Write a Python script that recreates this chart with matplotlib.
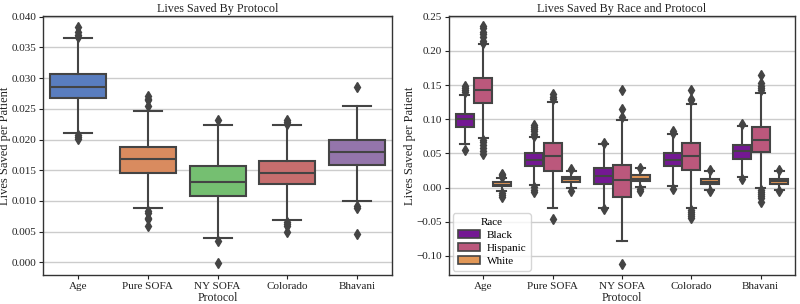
import colorsys
import matplotlib
matplotlib.use("Agg")
import matplotlib.pyplot as plt
import matplotlib.colors as mcolors
from matplotlib.patches import Patch

plt.rcParams['font.family'] = ['Liberation Serif', 'DejaVu Serif']
plt.rcParams['axes.unicode_minus'] = True

protocols = ["Age", "Pure SOFA", "NY SOFA", "Colorado", "Bhavani"]

# ---- Left panel: overall lives saved per patient ----
all_q1 = [0.0267, 0.0146, 0.0108, 0.0127, 0.0159]
all_med = [0.0286, 0.0168, 0.0131, 0.0146, 0.0180]
all_q3 = [0.0307, 0.0188, 0.0157, 0.0165, 0.0199]
all_lo = [0.0211, 0.0089, 0.0039, 0.0069, 0.0100]
all_hi = [0.0365, 0.0246, 0.0223, 0.0223, 0.0254]
all_fliers = [
    [0.0383, 0.0375, 0.0370, 0.0367, 0.0207, 0.0204, 0.0201],
    [0.0270, 0.0266, 0.0264, 0.0254, 0.0084, 0.0080, 0.0073, 0.0071, 0.0059],
    [0.0231, 0.0035, -0.0001],
    [0.0232, 0.0229, 0.0226, 0.0066, 0.0063, 0.0060, 0.0050],
    [0.0286, 0.0092, 0.0089, 0.0047],
]

# ---- Right panel: by race ----
races = ["Black", "Hispanic", "White"]
black_q1 = [0.0890, 0.0308, 0.0054, 0.0308, 0.0420]
black_med = [0.0997, 0.0396, 0.0166, 0.0410, 0.0528]
black_q3 = [0.1080, 0.0503, 0.0283, 0.0508, 0.0626]
black_lo = [0.0635, 0.0039, -0.0298, 0.0015, 0.0151]
black_hi = [0.1354, 0.0737, 0.0640, 0.0787, 0.0905]
black_fliers = [
    [0.148, 0.145, 0.142, 0.140, 0.0553],
    [0.091, 0.088, 0.085, 0.082, 0.079, 0.076, 0.0004, -0.003, -0.0066],
    [0.0648, -0.032],
    [0.083, 0.080, -0.002],
    [0.093, 0.013],
]
hisp_q1 = [0.1237, 0.0249, -0.0132, 0.0260, 0.0518]
hisp_med = [0.1432, 0.0454, 0.0103, 0.0454, 0.0689]
hisp_q3 = [0.1608, 0.0650, 0.0327, 0.0655, 0.0884]
hisp_lo = [0.0729, -0.0298, -0.0777, -0.0298, -0.0005]
hisp_hi = [0.2102, 0.1250, 0.0987, 0.1217, 0.1380]
hisp_fliers = [
    [0.236, 0.233, 0.228, 0.224, 0.220, 0.215, 0.212,
     0.070, 0.066, 0.062, 0.058, 0.053, 0.049],
    [0.137, 0.133, 0.130, -0.046],
    [0.143, 0.115, 0.103, -0.112],
    [0.143, 0.130, 0.128, -0.033, -0.036, -0.039, -0.042, -0.045],
    [0.164, 0.153, 0.149, 0.145, 0.142,
     -0.0034, -0.006, -0.010, -0.013, -0.016, -0.0205],
]
white_q1 = [0.0015, 0.0088, 0.0093, 0.0054, 0.0054]
white_med = [0.0044, 0.0122, 0.0127, 0.0088, 0.0093]
white_q3 = [0.0078, 0.0151, 0.0176, 0.0127, 0.0127]
white_lo = [-0.0044, -0.0005, 0.0005, -0.0034, -0.0034]
white_hi = [0.0137, 0.0249, 0.0289, 0.0239, 0.0239]
white_fliers = [
    [0.020, 0.018, 0.016, -0.008, -0.011, -0.014],
    [0.027, -0.0044],
    [0.029, -0.002, -0.005],
    [0.025, -0.005],
    [0.026, -0.005],
]


def desat(c, prop=0.75):
    r, g, b = mcolors.to_rgb(c)
    h, l, s = colorsys.rgb_to_hls(r, g, b)
    return colorsys.hls_to_rgb(h, l, s * prop)


muted = ["#4878d0", "#ee854a", "#6acc64", "#d65f5f", "#956cb4"]
left_colors = [desat(c) for c in muted]
plasma = plt.get_cmap("plasma")
race_colors = [desat(plasma(v)) for v in (0.25, 0.5, 0.75)]
edge_gray = "#444444"


def make_stats(q1, med, q3, lo, hi, fl):
    out = []
    for i in range(len(q1)):
        out.append(dict(q1=q1[i], med=med[i], q3=q3[i], whislo=lo[i],
                        whishi=hi[i], fliers=fl[i]))
    return out


def draw(ax, stats, positions, width, colors):
    props = dict(color=edge_gray, linewidth=1.5)
    bp = ax.bxp(stats, positions=positions, widths=width, patch_artist=True,
                showfliers=True, capwidths=width / 2,
                boxprops=dict(edgecolor=edge_gray, linewidth=1.5),
                medianprops=props, whiskerprops=props, capprops=props,
                flierprops=dict(marker='d', markersize=5, markerfacecolor=edge_gray,
                                markeredgecolor=edge_gray, linestyle='none'),
                manage_ticks=False, zorder=2)
    for patch, c in zip(bp['boxes'], colors):
        patch.set_facecolor(c)


def style(ax, ylab_x):
    ax.set_axisbelow(True)
    ax.yaxis.grid(True, color='#cccccc', linewidth=1)
    ax.xaxis.grid(False)
    for sp in ax.spines.values():
        sp.set_color('#333333')
        sp.set_linewidth(1.0)
    ax.tick_params(axis='both', labelsize=8, colors='#222222', length=3, width=0.8,
                   pad=2)
    ax.set_xticks(range(len(protocols)))
    ax.set_xticklabels(protocols)
    ax.set_xlim(-0.5, len(protocols) - 0.5)
    ax.set_xlabel("Protocol", fontsize=8.5, labelpad=1, color='#222222')
    ax.set_ylabel("Lives Saved per Patient", fontsize=9, color='#222222')
    ax.yaxis.set_label_coords(ylab_x, 0.5)


fig = plt.figure(figsize=(8, 3.04), dpi=100)
ax1 = fig.add_axes([0.054, 0.0954, 0.436, 0.852])
ax2 = fig.add_axes([0.561, 0.0954, 0.433, 0.852])

draw(ax1, make_stats(all_q1, all_med, all_q3, all_lo, all_hi, all_fliers),
     list(range(5)), 0.8, left_colors)
style(ax1, -0.092)
ax1.set_ylim(-0.00205, 0.0401)
ax1.set_yticks([0.000, 0.005, 0.010, 0.015, 0.020, 0.025, 0.030, 0.035, 0.040])
ax1.set_yticklabels([f"{v:.3f}" for v in ax1.get_yticks()])
ax1.set_title("Lives Saved By Protocol", fontsize=8.7, pad=3, color='#222222')

bw = 0.8 / 3
race_sets = [
    (black_q1, black_med, black_q3, black_lo, black_hi, black_fliers),
    (hisp_q1, hisp_med, hisp_q3, hisp_lo, hisp_hi, hisp_fliers),
    (white_q1, white_med, white_q3, white_lo, white_hi, white_fliers),
]
for j, data in enumerate(race_sets):
    pos = [i + (j - 1) * bw for i in range(5)]
    draw(ax2, make_stats(*data), pos, bw * 0.98, [race_colors[j]] * 5)
style(ax2, -0.094)
ax2.set_ylim(-0.128, 0.251)
ax2.set_yticks([-0.10, -0.05, 0.00, 0.05, 0.10, 0.15, 0.20, 0.25])
ax2.set_yticklabels([f"{v:.2f}".replace("-", "\u2212") for v in ax2.get_yticks()])
ax2.set_title("Lives Saved By Race and Protocol", fontsize=8.7, pad=3, color='#222222')

handles = [Patch(facecolor=c, edgecolor=edge_gray, linewidth=1.2) for c in race_colors]
leg = ax2.legend(handles, races, title="Race", loc='lower left', fontsize=8,
                 title_fontsize=8, frameon=True, borderpad=0.4, labelspacing=0.3,
                 handlelength=2.0, handletextpad=0.6, borderaxespad=0.4)
leg.get_frame().set_edgecolor('#cccccc')

fig.savefig("out.png", dpi=100)
